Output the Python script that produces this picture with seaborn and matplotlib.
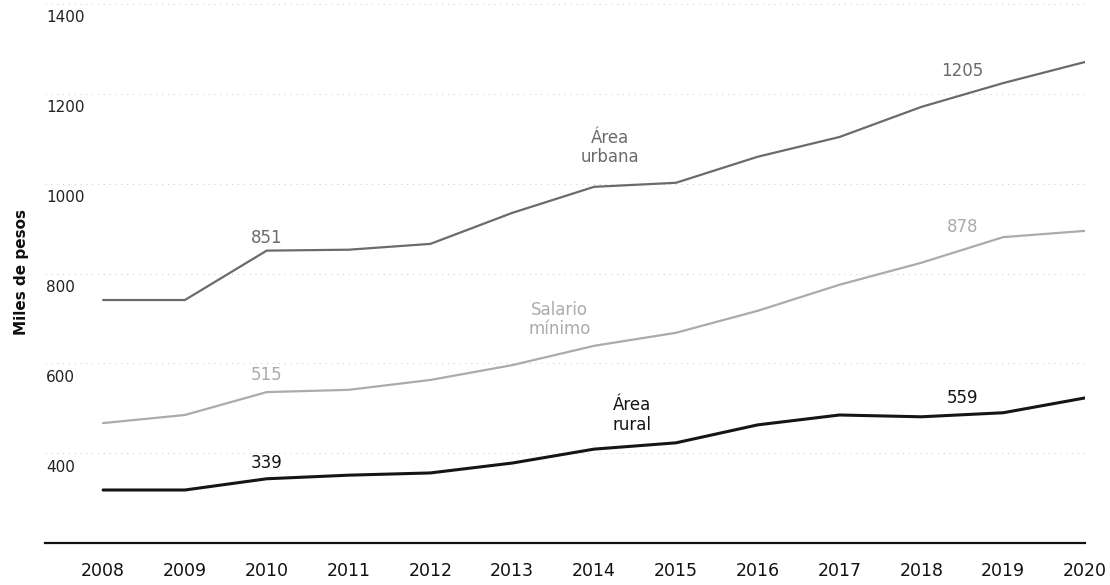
import pandas as pd
import matplotlib.pyplot as plt
import seaborn as sns

# Data (miles de pesos)
years = list(range(2008, 2021))
urbana = [741, 741, 851, 853, 866, 935, 993, 1002, 1060, 1104, 1171, 1224, 1271]
salario = [467, 485, 536, 541, 563, 596, 639, 668, 717, 775, 824, 881, 895]
rural = [318, 318, 343, 351, 356, 378, 409, 423, 463, 485, 481, 490, 523]

series_names = ["Área urbana", "Salario mínimo", "Área rural"]
series_labels = ["Área\nurbana", "Salario\nmínimo", "Área\nrural"]
y_ticks = [400, 600, 800, 1000, 1200, 1400]

# numbers written on the chart
note_values = ["851", "515", "339", "1205", "878", "559"]

df = pd.DataFrame({
    "Año": years * 3,
    "Valor": urbana + salario + rural,
    "Serie": [series_names[0]] * 13 + [series_names[1]] * 13 + [series_names[2]] * 13,
})

colors = {"Área urbana": "#6b6b6b", "Salario mínimo": "#ababab", "Área rural": "#151515"}
widths = {"Área urbana": 1.6, "Salario mínimo": 1.6, "Área rural": 2.2}

sns.set_style("white")
plt.rcParams["font.family"] = ["DejaVu Sans"]

fig = plt.figure(figsize=(11.1, 5.85), dpi=100)
ax = fig.add_axes([0.0405, 0.0718, 0.937, 0.9282])

sns.lineplot(data=df, x="Año", y="Valor", hue="Serie", palette=colors,
             legend=False, ax=ax)
for line, name in zip(ax.get_lines(), series_names):
    line.set_linewidth(widths[name])

ax.set_xlim(2007.29, 2020)
ax.set_ylim(200, 1409)

# faint dotted gridlines
ax.set_yticks(y_ticks + [200])
ax.set_yticklabels([])
ax.grid(axis="y", color="#c8c8c8", linestyle=(0, (1, 5)), linewidth=0.7)
ax.tick_params(axis="y", length=0)

# y tick labels sit just under their gridline, inside the plot
ytrans = ax.get_yaxis_transform()
for v in y_ticks:
    ax.annotate(str(v), xy=(0, v), xycoords=ytrans, xytext=(1, -10),
                textcoords="offset points", ha="left", va="center",
                fontsize=11, color="#222222")

ax.set_xticks(years)
ax.set_xticklabels([str(y) for y in years], fontsize=12.5, color="#111111")
ax.tick_params(axis="x", length=0, pad=14)

for side in ["top", "right", "left"]:
    ax.spines[side].set_visible(False)
ax.spines["bottom"].set_color("#111111")
ax.spines["bottom"].set_linewidth(1.6)

ax.set_xlabel("")
ax.set_ylabel("")
fig.text(0.019, 0.535, "Miles de pesos", rotation=90, ha="center", va="center",
         fontsize=11, fontweight="bold", color="#111111")

# series names
ax.text(2014.2, 1080, series_labels[0], ha="center", va="center", fontsize=12,
        color=colors["Área urbana"], linespacing=1.1)
ax.text(2013.58, 697, series_labels[1], ha="center", va="center", fontsize=12,
        color=colors["Salario mínimo"], linespacing=1.1)
ax.text(2014.46, 485, series_labels[2], ha="center", va="center", fontsize=12,
        color=colors["Área rural"], linespacing=1.1)

# value notes
note_pos = [(2010, 879), (2010, 574), (2010, 378), (2018.5, 1251), (2018.5, 904), (2018.5, 523)]
note_col = [colors["Área urbana"], colors["Salario mínimo"], colors["Área rural"]] * 2
for txt, (x, y), c in zip(note_values, note_pos, note_col):
    ax.text(x, y, txt, ha="center", va="center", fontsize=12, color=c)

for t in ax.texts:
    t.set_clip_on(False)

fig.savefig("out.png", dpi=100)
